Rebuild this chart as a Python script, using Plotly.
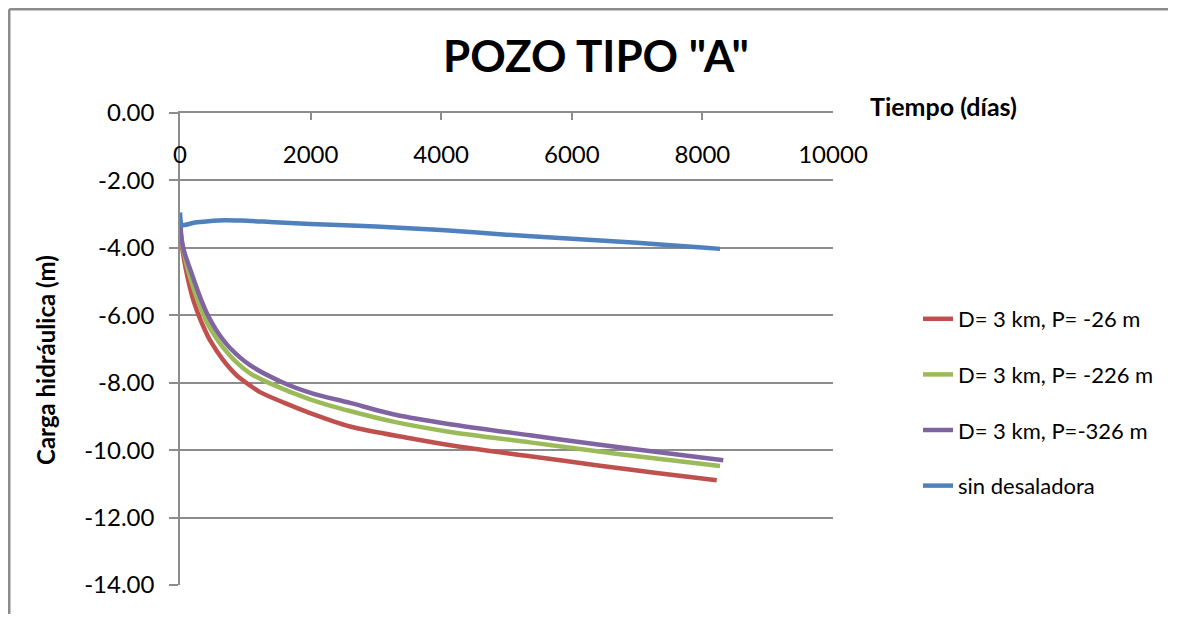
import plotly.graph_objects as go

# ---- data ----
t_red = [0, 20, 45, 77, 140, 204, 300, 380, 459, 650, 868, 1072, 1225, 1600, 1991, 2603, 3500, 4288, 5360, 6432, 7300, 8219]
y_red = [-3.2, -3.8, -4.15, -4.5, -5.08, -5.55, -6.07, -6.43, -6.74, -7.3, -7.78, -8.08, -8.28, -8.6, -8.9, -9.3, -9.64, -9.9, -10.18, -10.46, -10.68, -10.89]

t_green = [0, 25, 60, 115, 190, 270, 347, 430, 530, 638, 850, 1072, 1378, 2000, 2603, 3300, 4135, 5360, 6738, 8270]
y_green = [-3.2, -3.8, -4.15, -4.6, -5.1, -5.55, -5.93, -6.28, -6.6, -6.9, -7.37, -7.72, -8.02, -8.5, -8.84, -9.17, -9.46, -9.77, -10.12, -10.47]

t_purple = [0, 30, 70, 153, 230, 330, 410, 500, 600, 766, 1072, 1582, 2000, 2603, 3300, 4135, 5360, 6432, 7400, 8320]
y_purple = [-3.2, -3.8, -4.15, -4.62, -5.05, -5.57, -5.93, -6.26, -6.57, -6.97, -7.48, -8.0, -8.3, -8.6, -8.95, -9.23, -9.56, -9.84, -10.08, -10.30]

t_blue = [0, 30, 77, 230, 434, 689, 944, 1455, 2000, 3000, 4000, 5000, 6000, 7000, 8000, 8270]
y_blue = [-2.95, -3.33, -3.32, -3.25, -3.21, -3.18, -3.19, -3.24, -3.29, -3.37, -3.47, -3.61, -3.73, -3.85, -3.99, -4.03]

series_names = ["D= 3 km, P= -26 m", "D= 3 km, P= -226 m", "D= 3 km, P=-326 m", "sin desaladora"]
series_colors = ["#C0504D", "#9BBB59", "#8064A2", "#4F81BD"]

x_tickvals = [0, 2000, 4000, 6000, 8000, 10000]
x_ticktext = ["0", "2000", "4000", "6000", "8000", "10000"]
y_tickvals = [0, -2, -4, -6, -8, -10, -12, -14]
y_ticktext = ["0.00", "-2.00", "-4.00", "-6.00", "-8.00", "-10.00", "-12.00", "-14.00"]

title_text = 'POZO TIPO "A"'
x_title = "Tiempo (días)"
y_title = "Carga hidráulica (m)"

FONT = "Lato"
GRID = "#8C8C8C"
OFF = 8  # page body offset compensation
FW, FH = 1160, 606  # keep the page free of scrollbars

# plot area in figure pixels
L, T = 180 - OFF, 113 - OFF
W, H = 653, 472

fig = go.Figure()
data = [(t_red, y_red), (t_green, y_green), (t_purple, y_purple), (t_blue, y_blue)]
for i, ((tx, ty), name, col) in enumerate(zip(data, series_names, series_colors)):
    fig.add_trace(go.Scatter(
        x=tx, y=ty, name=name, mode="lines",
        line=dict(color=col, width=4.5, shape="spline", smoothing=0.8),
        legendgroup=f"g{i}",
    ))

border = dict(color=GRID, width=2.5)
fig.update_layout(
    width=FW, height=FH,
    margin=dict(l=L, r=FW - L - W, t=T, b=FH - T - H, autoexpand=False),
    paper_bgcolor="white", plot_bgcolor="white",
    font=dict(family=FONT, color="black"),
    title=dict(text=f"<b>{title_text}</b>", x=(596 - OFF)/FW, xanchor="center",
               y=1-(57 - OFF)/FH, yanchor="middle", font=dict(size=44, family=FONT, color="black")),
    showlegend=True,
    legend=dict(x=(918-180)/W, xanchor="left", y=(585-298)/H, yanchor="top",
                font=dict(size=22, family=FONT, color="black"),
                tracegroupgap=24, bgcolor="rgba(0,0,0,0)", borderwidth=0),
    xaxis=dict(
        range=[0, 10000], side="top", showline=True, linecolor=GRID, linewidth=1.5,
        showgrid=False, zeroline=False, automargin=False,
        tickvals=x_tickvals, ticktext=x_ticktext,
        ticks="inside", ticklen=7, tickcolor=GRID, tickwidth=1.5,
        ticklabelposition="inside", ticklabelstandoff=28, ticklabeloverflow="allow",
        tickfont=dict(size=24, family=FONT, color="black"),
    ),
    yaxis=dict(
        range=[-14, 0], showline=True, linecolor=GRID, linewidth=1.5,
        showgrid=True, gridcolor=GRID, gridwidth=1.5, zeroline=False, automargin=False,
        tickvals=y_tickvals, ticktext=y_ticktext,
        ticks="outside", ticklen=9, tickcolor=GRID, tickwidth=1.5,
        ticklabelstandoff=10,
        tickfont=dict(size=24, family=FONT, color="black"),
    ),
    annotations=[
        dict(text=f"<b>{x_title}</b>", xref="paper", yref="paper",
             x=(943-180)/W, y=(585-106)/H, xanchor="center", yanchor="middle",
             showarrow=False, font=dict(size=25, family=FONT, color="black")),
        dict(text=f"<b>{y_title}</b>", xref="paper", yref="paper", textangle=-90,
             x=(45-180)/W, y=(585-360)/H, xanchor="center", yanchor="middle",
             showarrow=False, font=dict(size=24, family=FONT, color="black")),
    ],
    shapes=[
        # chart-area border: top and left edges (right/bottom lie outside the picture)
        dict(type="line", xref="paper", yref="paper",
             x0=(1.25 - L)/W, x1=(FW - L)/W, y0=(T + H - 1.25)/H, y1=(T + H - 1.25)/H,
             line=border, layer="below"),
        dict(type="line", xref="paper", yref="paper",
             x0=(1.25 - L)/W, x1=(1.25 - L)/W, y0=(T + H - FH)/H, y1=(T + H - 1.25)/H,
             line=border, layer="below"),
    ],
)

fig.write_html("out.html")
